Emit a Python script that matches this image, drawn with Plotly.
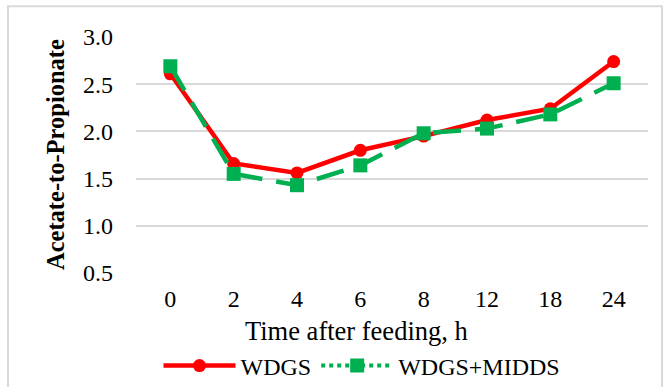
import plotly.graph_objects as go

hours = ["0", "2", "4", "6", "8", "12", "18", "24"]
wdgs = [2.61, 1.66, 1.56, 1.80, 1.95, 2.12, 2.24, 2.74]
wdgs_middds = [2.69, 1.55, 1.43, 1.64, 1.98, 2.03, 2.18, 2.51]

FONT = "Liberation Serif, Times New Roman, serif"
RED = "#ff0000"
GREEN = "#00b050"

fig = go.Figure()
fig.add_trace(go.Scatter(
    x=hours, y=wdgs, name="WDGS", mode="lines+markers", showlegend=False,
    line=dict(color=RED, width=4.5),
    marker=dict(symbol="circle", size=13, color=RED),
))
fig.add_trace(go.Scatter(
    x=hours, y=wdgs_middds, name="WDGS+MIDDS", mode="lines+markers", showlegend=False,
    line=dict(color=GREEN, width=4.5, dash="28px,14px"),
    marker=dict(symbol="square", size=14, color=GREEN),
))
# legend keys (round-dot style for the second series)
fig.add_trace(go.Scatter(
    x=[None], y=[None], name="WDGS", mode="lines+markers",
    line=dict(color=RED, width=4.5),
    marker=dict(symbol="circle", size=13, color=RED),
))
fig.add_trace(go.Scatter(
    x=[None], y=[None], name="WDGS+MIDDS", mode="lines+markers",
    line=dict(color=GREEN, width=4, dash="dot"),
    marker=dict(symbol="square", size=14, color=GREEN),
))

# light grey frame around the whole chart area
fig.add_shape(type="rect", xref="paper", yref="paper",
              x0=-0.25, x1=1.0273, y0=-0.6, y1=1.13,
              line=dict(color="#d9d9d9", width=2), layer="below")

# axis titles
fig.add_annotation(text="Time after feeding, h", xref="paper", yref="paper",
                   x=(356 - 136) / 512, y=(273 - 331) / 236, xanchor="center", yanchor="middle",
                   showarrow=False, font=dict(family=FONT, size=26.5, color="black"))
fig.add_annotation(text="<b>Acetate-to-Propionate</b>", xref="paper", yref="paper",
                   x=(55 - 136) / 512, y=0.5, xanchor="center", yanchor="middle", textangle=-90,
                   showarrow=False, font=dict(family=FONT, size=24.5, color="black"))

fig.update_layout(
    width=668, height=387,
    margin=dict(l=136, r=20, t=37, b=114, autoexpand=False),
    paper_bgcolor="white", plot_bgcolor="white",
    font=dict(family=FONT, size=24, color="black"),
    showlegend=True,
    legend=dict(orientation="h", x=362 / 668, xanchor="center", xref="container",
                y=1 - 366 / 387, yanchor="middle", yref="container",
                font=dict(family=FONT, size=24), itemwidth=72,
                bgcolor="rgba(0,0,0,0)"),
    xaxis=dict(type="category", showgrid=False, showline=False, ticks="", automargin=False,
               tickfont=dict(family=FONT, size=24), ticklabelstandoff=9),
    yaxis=dict(range=[0.5, 3.0], dtick=0.5, tickformat=".1f", automargin=False,
               showgrid=True, gridcolor="#d9d9d9", gridwidth=2,
               zeroline=False, showline=False, ticks="",
               tickfont=dict(family=FONT, size=24), ticklabelstandoff=22),
)

fig.write_html("out.html")
